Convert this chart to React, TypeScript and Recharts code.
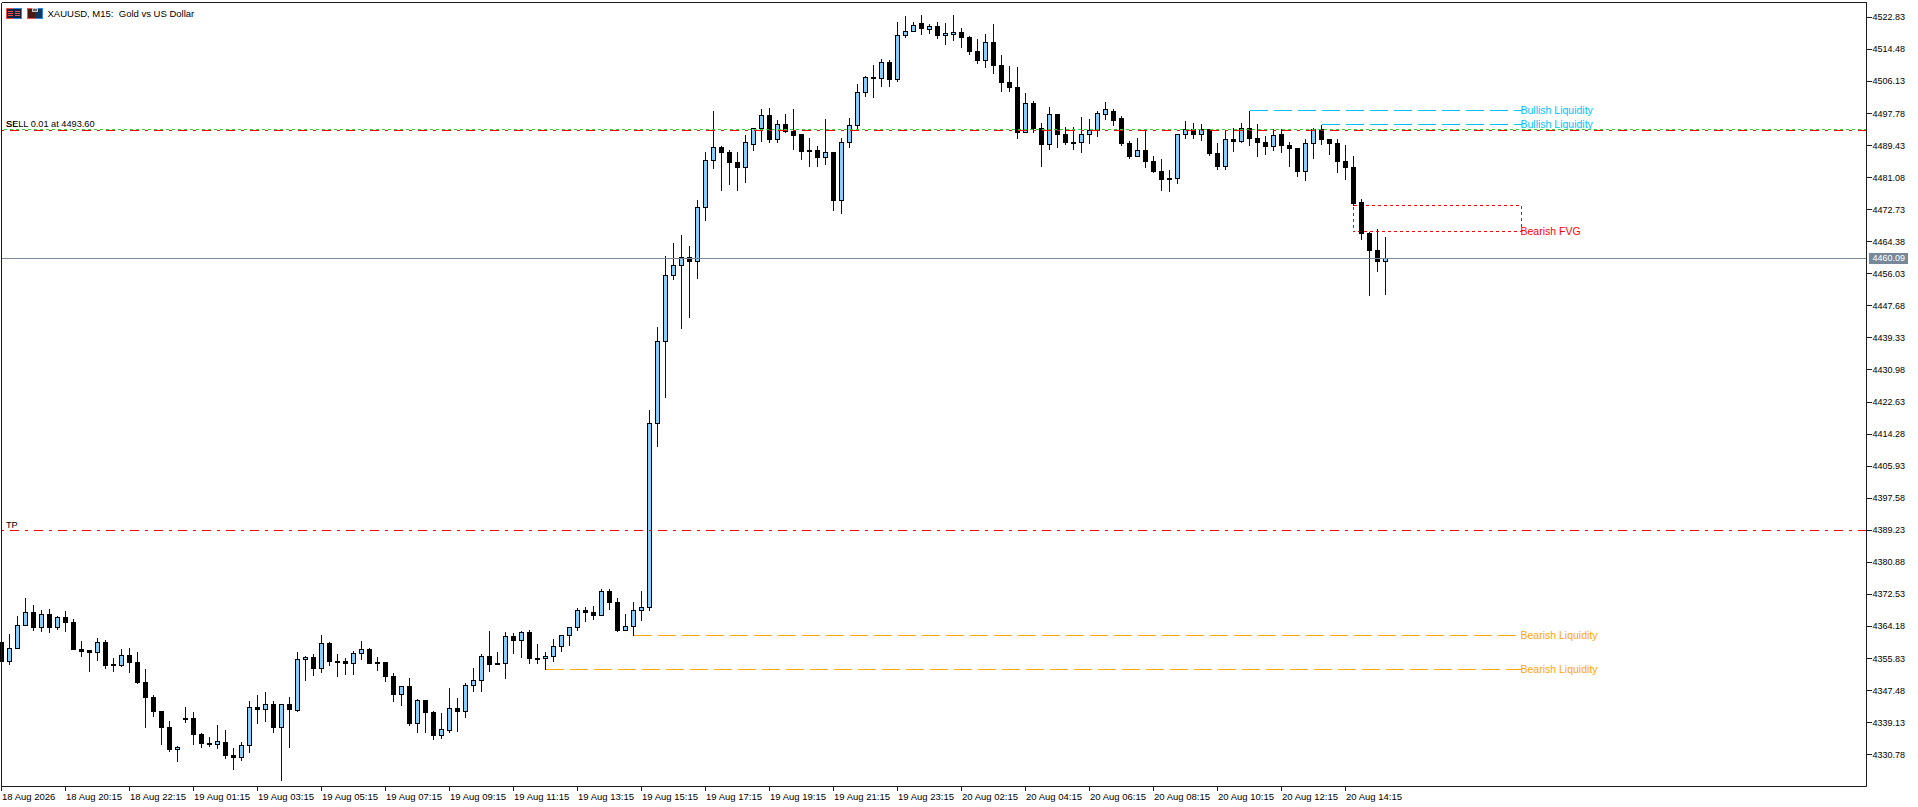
import React from "react";
import { ComposedChart, Bar, XAxis, YAxis, ReferenceLine, ReferenceArea } from "recharts";

const opens = [4360.05,4354.93,4358.40,4364.39,4367.78,4363.79,4367.26,4363.79,4366.48,4365.17,4358.14,4357.88,4357.36,4359.96,4354.24,4353.98,4356.58,4354.76,4349.55,4345.64,4342.00,4337.83,4332.01,4340.26,4340.17,4336.00,4333.75,4333.40,4333.92,4330.53,4329.93,4333.14,4343.04,4342.43,4343.82,4337.74,4343.82,4342.17,4355.54,4356.06,4353.11,4359.71,4355.10,4355.02,4354.41,4357.10,4358.14,4354.76,4354.76,4351.11,4346.59,4348.50,4338.87,4344.86,4341.73,4335.66,4336.96,4342.77,4341.91,4348.77,4350.07,4356.32,4354.50,4354.50,4361.53,4360.49,4362.57,4355.80,4355.71,4356.32,4358.92,4361.79,4363.87,4368.30,4367.78,4367.00,4373.25,4370.38,4363.00,4364.13,4368.30,4369.09,4417.01,4438.37,4455.56,4458.16,4460.25,4459.20,4473.26,4485.50,4488.89,4487.58,4484.98,4483.68,4489.67,4493.83,4497.22,4490.97,4494.88,4493.05,4492.27,4488.10,4488.10,4486.45,4487.58,4475.25,4490.19,4494.62,4503.21,4507.12,4506.86,4511.02,4506.51,4518.06,4519.10,4521.18,4519.62,4520.40,4518.06,4518.32,4518.84,4517.54,4513.89,4511.55,4516.23,4510.24,4505.82,4504.51,4492.79,4500.35,4493.83,4489.67,4497.48,4492.27,4490.19,4490.19,4492.27,4493.31,4497.48,4498.26,4496.44,4489.93,4486.46,4488.11,4485.24,4482.64,4480.81,4480.81,4492.27,4493.58,4492.27,4493.58,4487.32,4483.85,4490.97,4490.36,4493.84,4491.23,4490.19,4489.15,4492.27,4489.41,4488.63,4482.55,4489.93,4493.58,4490.97,4489.93,4485.24,4483.68,4474.56,4466.49,4462.06,4459.11];
const highs = [4360.05,4362.31,4366.82,4371.69,4369.69,4368.56,4368.82,4367.00,4368.30,4366.13,4360.49,4358.14,4361.27,4360.75,4356.06,4358.40,4358.66,4357.62,4353.19,4346.42,4342.25,4339.65,4333.14,4343.30,4342.00,4336.44,4335.40,4338.43,4337.30,4332.62,4334.09,4344.86,4346.42,4347.20,4344.86,4344.08,4345.90,4357.62,4356.58,4357.10,4362.05,4360.23,4357.10,4356.06,4357.88,4360.49,4358.66,4356.32,4355.02,4352.15,4348.50,4350.85,4345.38,4345.12,4342.25,4341.73,4348.24,4345.64,4349.55,4353.45,4356.93,4363.09,4357.62,4362.83,4362.57,4363.09,4363.35,4359.71,4357.62,4361.01,4361.79,4364.13,4369.08,4369.34,4369.60,4374.03,4374.03,4371.69,4367.52,4370.64,4373.51,4420.66,4442.28,4460.77,4464.15,4466.05,4463.19,4475.35,4487.84,4498.52,4489.41,4488.36,4487.84,4492.27,4493.83,4499.04,4499.30,4496.18,4497.74,4499.04,4492.53,4491.49,4489.41,4496.44,4487.84,4491.49,4496.70,4505.55,4507.64,4510.50,4512.07,4511.81,4521.70,4523.27,4521.70,4523.53,4521.18,4521.70,4521.44,4523.53,4520.14,4518.06,4517.28,4518.58,4521.18,4513.11,4510.24,4509.98,4503.21,4501.13,4495.40,4499.56,4497.74,4494.36,4494.36,4496.96,4496.44,4498.52,4500.87,4499.04,4497.22,4490.71,4491.49,4493.84,4486.80,4486.02,4483.16,4492.27,4495.92,4495.40,4495.14,4493.58,4490.19,4493.31,4494.10,4495.40,4498.52,4495.14,4492.01,4493.84,4493.84,4490.45,4488.89,4491.23,4494.10,4494.88,4491.23,4491.23,4489.67,4486.80,4475.60,4467.01,4467.79,4465.71];
const lows = [4354.93,4354.15,4358.40,4364.39,4363.00,4362.74,4362.48,4363.26,4362.74,4358.14,4356.23,4352.33,4355.19,4353.11,4352.33,4353.63,4352.06,4349.20,4337.74,4340.60,4333.31,4331.58,4328.88,4339.04,4333.31,4332.53,4332.79,4332.27,4329.67,4326.80,4329.14,4331.23,4338.78,4339.30,4336.44,4323.93,4332.53,4342.00,4349.98,4351.28,4352.06,4353.89,4351.02,4351.54,4351.54,4355.45,4354.41,4352.59,4349.72,4344.51,4343.47,4338.26,4336.44,4336.44,4334.62,4334.88,4336.44,4336.70,4340.34,4347.12,4347.12,4352.33,4354.15,4350.50,4357.01,4355.97,4354.41,4354.41,4352.93,4354.93,4357.53,4359.10,4363.00,4365.35,4365.87,4366.91,4368.47,4362.74,4363.00,4361.70,4365.61,4368.20,4410.92,4423.68,4454.33,4441.65,4444.52,4454.60,4469.79,4483.33,4477.60,4479.16,4477.60,4479.68,4488.02,4490.36,4490.10,4490.10,4492.71,4488.28,4485.67,4483.85,4483.85,4484.37,4472.39,4471.61,4488.80,4493.75,4502.08,4501.82,4504.69,4504.69,4505.99,4517.54,4519.10,4518.32,4518.58,4517.19,4515.63,4516.67,4514.84,4513.02,4510.76,4509.64,4508.07,4503.38,4503.38,4491.14,4492.79,4492.79,4483.85,4488.28,4488.80,4489.67,4488.28,4487.50,4489.84,4491.75,4496.18,4494.62,4489.32,4485.93,4486.46,4483.59,4482.29,4477.60,4477.34,4479.42,4491.14,4491.14,4490.62,4486.72,4483.07,4483.07,4487.76,4490.10,4489.32,4486.46,4486.98,4488.02,4487.50,4483.85,4481.25,4480.20,4485.93,4489.58,4486.98,4482.29,4480.47,4473.78,4464.84,4450.25,4456.50,4450.51];
const closes = [4354.93,4358.40,4364.39,4367.78,4363.79,4367.26,4363.79,4366.48,4365.17,4358.14,4357.62,4357.36,4359.96,4353.89,4353.89,4356.58,4354.67,4349.46,4345.55,4341.91,4337.74,4332.01,4332.62,4340.08,4335.92,4333.57,4333.57,4334.18,4330.45,4329.93,4333.14,4343.04,4342.43,4343.82,4337.74,4343.82,4342.43,4355.54,4356.06,4353.11,4359.71,4354.93,4354.93,4354.41,4357.10,4358.14,4354.41,4354.41,4351.02,4346.59,4348.50,4338.78,4344.86,4341.65,4335.66,4337.30,4342.77,4341.91,4348.77,4350.07,4356.32,4354.24,4354.15,4361.53,4360.49,4362.57,4355.80,4355.45,4356.32,4358.92,4361.79,4363.87,4368.30,4367.78,4366.91,4373.25,4370.38,4363.00,4364.13,4368.30,4369.08,4417.01,4438.37,4455.56,4458.16,4460.25,4459.20,4473.27,4485.50,4488.89,4487.50,4484.89,4483.68,4490.19,4493.83,4497.22,4490.97,4494.88,4492.97,4492.18,4487.76,4487.76,4486.45,4487.58,4475.25,4490.19,4494.62,4503.21,4507.12,4506.77,4511.02,4506.51,4518.06,4519.10,4520.66,4519.88,4520.40,4518.06,4518.58,4518.84,4517.54,4513.80,4511.55,4516.23,4510.24,4505.82,4504.51,4492.79,4500.35,4493.75,4489.67,4497.48,4492.27,4490.19,4489.93,4492.27,4493.31,4497.74,4498.78,4495.92,4489.84,4486.46,4488.11,4485.15,4482.55,4480.47,4480.47,4492.27,4493.58,4492.27,4493.58,4487.24,4483.85,4490.97,4490.45,4493.84,4491.14,4490.19,4489.06,4492.01,4489.32,4488.54,4482.55,4489.93,4493.58,4490.88,4489.84,4485.15,4483.59,4474.47,4466.40,4461.97,4459.11,4460.09];

const timeLabels = ["18 Aug 2026","18 Aug 20:15","18 Aug 22:15","19 Aug 01:15","19 Aug 03:15","19 Aug 05:15","19 Aug 07:15","19 Aug 09:15","19 Aug 11:15","19 Aug 13:15","19 Aug 15:15","19 Aug 17:15","19 Aug 19:15","19 Aug 21:15","19 Aug 23:15","20 Aug 02:15","20 Aug 04:15","20 Aug 06:15","20 Aug 08:15","20 Aug 10:15","20 Aug 12:15","20 Aug 14:15"];
const priceTickLabels = [4522.83,4514.48,4506.13,4497.78,4489.43,4481.08,4472.73,4464.38,4456.03,4447.68,4439.33,4430.98,4422.63,4414.28,4405.93,4397.58,4389.23,4380.88,4372.53,4364.18,4355.83,4347.48,4339.13,4330.78];

const LAST_PRICE = 4460.09;
const SELL_PRICE = 4493.6;
const SL_PRICE = 4493.35;
const TP_PRICE = 4389.23;
const BULL_LIQ = [{ from: 156, price: 4498.52 }, { from: 165, price: 4494.88 }];
const BEAR_LIQ = [{ from: 79, price: 4361.7 }, { from: 68, price: 4352.93 }];
const FVG = { from: 169, to: 190, top: 4473.78, bottom: 4467.01 };
const LABEL_END = 190;
const Y_DOMAIN = [4322.5, 4526.69];
const X_DOMAIN = [0, 233.125];

const candles = opens.map((open, i) => ({ k: i, open, high: highs[i], low: lows[i], close: closes[i] }));

const FRAME = "#1c1c1c";
const BULL = "#87CEFA";
const FONT = "'Liberation Sans', Arial, sans-serif";

function Candle(props: any) {
  const { x, y, width, height, payload } = props;
  const cx = Math.floor(x + width / 2) + 0.5;
  const span = payload.high - payload.low || 1;
  const f = height / span;
  const at = (v: number) => y + (payload.high - v) * f;
  const bodyTop = Math.floor(at(Math.max(payload.open, payload.close))) + 0.5;
  const bodyBottom = Math.floor(at(Math.min(payload.open, payload.close))) + 0.5;
  const bull = payload.close >= payload.open;
  return (
    <g shapeRendering="crispEdges">
      <line x1={cx} x2={cx} y1={y} y2={y + height} stroke="#111" strokeWidth={1} />
      <rect x={cx - 2} y={bodyTop} width={4} height={Math.max(bodyBottom - bodyTop, 1)} fill={bull ? BULL : "#000"} stroke="#000" strokeWidth={1} />
    </g>
  );
}

function TimeTick(props: any) {
  const { x, y, index } = props;
  return (
    <g>
      <line x1={x} x2={x} y1={y} y2={y + 4} stroke={FRAME} shapeRendering="crispEdges" />
      <text x={x + 0.5} y={y + 9.5} fontSize={9.5} fontFamily={FONT} fill="#000" dominantBaseline="central">{timeLabels[index]}</text>
    </g>
  );
}

function PriceTick(props: any) {
  const { x, y, payload } = props;
  if (payload.value === LAST_PRICE) {
    return (
      <g>
        <rect x={x + 2.5} y={y - 5.5} width={39} height={11} fill="#778899" shapeRendering="crispEdges" />
        <text x={x + 6} y={y} fontSize={9} fontFamily={FONT} fill="#fff" dominantBaseline="central">{payload.value.toFixed(2)}</text>
      </g>
    );
  }
  return (
    <g>
      <line x1={x} x2={x + 5} y1={y} y2={y} stroke={FRAME} shapeRendering="crispEdges" />
      <text x={x + 6} y={y} fontSize={9} fontFamily={FONT} fill="#000" dominantBaseline="central">{payload.value.toFixed(2)}</text>
    </g>
  );
}

function SideLabel({ x, y, color, children }: any) {
  return <text x={x} y={y} fontSize={10.5} fontFamily={FONT} fill={color} dominantBaseline="central">{children}</text>;
}

function Icons() {
  return (
    <svg width={44} height={14} style={{ position: "absolute", left: 4, top: 6 }} shapeRendering="crispEdges">
      <rect x={2} y={2} width={8} height={11} fill="#f0504a" />
      <rect x={10} y={2} width={8} height={11} fill="#2f86e6" />
      <rect x={3} y={3} width={14} height={9} fill="#12243f" />
      <path d="M4 5.5H9M4 7.5H9M4 9.5H9M11 5.5H16M11 7.5H16M11 9.5H16" stroke="#f0504a" />
      <rect x={23} y={2} width={8} height={11} fill="#f0504a" />
      <rect x={31} y={2} width={8} height={11} fill="#2f86e6" />
      <rect x={24} y={3} width={7} height={9} fill="#4a1a12" />
      <rect x={31} y={3} width={7} height={9} fill="#0f3560" />
      <rect x={28} y={2} width={6} height={4} fill="#c8c8c8" />
      <rect x={29} y={3} width={4} height={2} fill="#666" />
    </svg>
  );
}

export default function App() {
  return (
    <div style={{ position: "absolute", left: 0, top: 0, width: 1918, height: 807, background: "#fff" }}>
      <ComposedChart
        width={1918}
        height={807}
        data={candles}
        margin={{ top: 2.5, left: 1.5, right: 0, bottom: 0 }}
      >
        <XAxis
          dataKey="k"
          type="number"
          domain={X_DOMAIN}
          ticks={timeLabels.map((_, i) => i * 8)}
          interval={0}
          height={20.5}
          stroke={FRAME}
          tickLine={false}
          tickSize={0}
          tickMargin={0}
          tick={TimeTick}
        />
        <YAxis
          orientation="right"
          type="number"
          domain={Y_DOMAIN}
          ticks={[...priceTickLabels, LAST_PRICE]}
          interval={0}
          width={51.5}
          stroke={FRAME}
          tickLine={false}
          tickSize={0}
          tickMargin={0}
          tick={PriceTick}
        />
        <ReferenceLine y={Y_DOMAIN[1]} stroke={FRAME} shapeRendering="crispEdges" />
        <ReferenceLine x={0} stroke={FRAME} shapeRendering="crispEdges" />
        <ReferenceLine y={LAST_PRICE} stroke="#778899" shapeRendering="crispEdges" />
        <ReferenceLine y={SELL_PRICE} stroke="#32CD32" strokeDasharray="3 3" shapeRendering="crispEdges" />
        <ReferenceLine y={SL_PRICE} stroke="#FF0000" strokeDasharray="9 6 3 6" shapeRendering="crispEdges" />
        <ReferenceLine y={TP_PRICE} stroke="#FF0000" strokeDasharray="9 6 3 6" shapeRendering="crispEdges" />
        {BULL_LIQ.map((l) => (
          <ReferenceLine key={l.from} segment={[{ x: l.from, y: l.price }, { x: LABEL_END, y: l.price }]} stroke="#00BFFF" strokeDasharray="18 6" shapeRendering="crispEdges" />
        ))}
        {BEAR_LIQ.map((l) => (
          <ReferenceLine key={l.from} segment={[{ x: l.from, y: l.price }, { x: LABEL_END, y: l.price }]} stroke="#FFA500" strokeDasharray="18 6" shapeRendering="crispEdges" />
        ))}
        <ReferenceArea x1={FVG.from} x2={FVG.to} y1={FVG.bottom} y2={FVG.top} fill="none" stroke="#FF0000" strokeDasharray="3 3" shapeRendering="crispEdges" />
        <Bar dataKey={(d: any) => [d.low, d.high]} barSize={5} shape={Candle} isAnimationActive={false} />
        <text x={47.5} y={13.5} fontSize={9.5} fontFamily={FONT} fill="#000" dominantBaseline="central" style={{ whiteSpace: "pre" }}>{"XAUUSD, M15:  Gold vs US Dollar"}</text>
        <text x={6} y={123.5} fontSize={9.2} fontFamily={FONT} fill="#000" dominantBaseline="central">SELL 0.01 at 4493.60</text>
        <text x={6} y={123.5} fontSize={9.2} fontFamily={FONT} fill="#000" dominantBaseline="central">SL</text>
        <text x={6} y={525} fontSize={9.2} fontFamily={FONT} fill="#000" dominantBaseline="central">TP</text>
        <SideLabel x={1520.5} y={110} color="#00BFFF">Bullish Liquidity</SideLabel>
        <SideLabel x={1520.5} y={124} color="#00BFFF">Bullish Liquidity</SideLabel>
        <SideLabel x={1520.5} y={231} color="#FF0000">Bearish FVG</SideLabel>
        <SideLabel x={1520.5} y={635} color="#FFA500">Bearish Liquidity</SideLabel>
        <SideLabel x={1520.5} y={669} color="#FFA500">Bearish Liquidity</SideLabel>
      </ComposedChart>
      <Icons />
    </div>
  );
}
